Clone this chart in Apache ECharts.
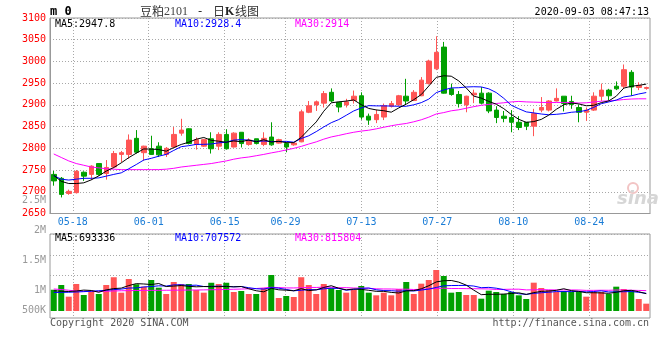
<!DOCTYPE html>
<html>
<head>
<meta charset="utf-8">
<script src="https://cdn.jsdelivr.net/npm/echarts/dist/echarts.min.js"></script>
<style>html,body{margin:0;padding:0;background:#fff}#c{width:660px;height:360px}</style>
</head>
<body>
<div id="c"></div>
<script>
// ---- data ----
const dates = ['05-13','05-14','05-15','05-18','05-19','05-20','05-21','05-22','05-25','05-26','05-27','05-28','05-29',
'06-01','06-02','06-03','06-04','06-05','06-08','06-09','06-10','06-11','06-12','06-15','06-16','06-17','06-18','06-19','06-22','06-23','06-24','06-29','06-30',
'07-01','07-02','07-03','07-06','07-07','07-08','07-09','07-10','07-13','07-14','07-15','07-16','07-17','07-20','07-21','07-22','07-23','07-24','07-27','07-28','07-29','07-30','07-31',
'08-03','08-04','08-05','08-06','08-07','08-10','08-11','08-12','08-13','08-14','08-17','08-18','08-19','08-20','08-21','08-24','08-25','08-26','08-27','08-28','08-31',
'09-01','09-02','09-03'];
const labelDates = ['05-18','06-01','06-15','06-29','07-13','07-27','08-10','08-24'];

const opens = [2740,2731,2696,2698,2745,2740,2765,2742,2757,2786,
2786,2823,2790,2799,2805,2786,2803,2835,2845,2809,
2805,2822,2805,2832,2803,2837,2809,2822,2809,2826,
2812,2811,2808,2815,2883,2900,2904,2929,2906,2900,
2910,2921,2874,2866,2872,2897,2900,2920,2910,2921,
2949,2983,3033,2937,2924,2900,2923,2927,2927,2888,
2874,2871,2860,2860,2851,2888,2888,2909,2920,2908,
2894,2883,2888,2920,2934,2943,2943,2975,2940,2938];
const closes = [2725,2694,2701,2747,2736,2759,2740,2756,2788,2790,
2819,2791,2805,2786,2785,2800,2832,2842,2811,2820,
2820,2799,2832,2799,2835,2811,2819,2811,2823,2808,
2820,2803,2812,2884,2898,2907,2926,2909,2895,2907,
2920,2872,2865,2878,2898,2903,2921,2909,2929,2957,
3001,3021,2927,2924,2903,2920,2927,2904,2886,2871,
2869,2860,2848,2851,2880,2894,2909,2915,2903,2901,
2883,2888,2920,2934,2921,2937,2981,2941,2945,2940];
const lows = [2714,2687,2693,2696,2725,2727,2737,2728,2754,2768,
2776,2788,2771,2785,2780,2780,2802,2829,2809,2797,
2803,2788,2796,2797,2802,2802,2806,2809,2805,2806,
2811,2791,2806,2814,2881,2886,2894,2906,2883,2894,
2903,2866,2854,2858,2865,2894,2898,2901,2910,2920,
2947,2980,2926,2921,2894,2883,2904,2901,2881,2858,
2860,2837,2842,2842,2828,2883,2885,2908,2885,2891,
2860,2863,2886,2909,2909,2934,2937,2921,2934,2935];
const highs = [2748,2734,2705,2750,2747,2761,2766,2773,2794,2794,
2832,2842,2806,2829,2814,2803,2849,2868,2846,2825,
2822,2837,2837,2844,2837,2837,2823,2822,2837,2860,
2822,2814,2814,2889,2909,2910,2932,2938,2907,2914,
2933,2929,2880,2889,2903,2909,2923,2960,2934,2964,
3004,3058,3045,2949,2932,2921,2935,2941,2929,2897,
2886,2888,2874,2860,2891,2918,2911,2938,2920,2921,
2901,2894,2929,2949,2937,2954,2993,2980,2952,2942];

const ma5 = [2738,2724,2719,2719,2720.6,2727.4,2736.6,2747.6,2755.8,2766.6,
2778.6,2788.8,2798.6,2798.2,2797.2,2793.4,2801.6,2809,2814,2821,
2825,2818.4,2816.4,2814,2817,2815.2,2819.2,2815,2819.8,2814.4,
2816.2,2813,2813.2,2825.4,2843.4,2860.8,2885.4,2904.8,2907,2908.8,
2911.4,2900.6,2891.8,2888.4,2886.6,2883.2,2893,2901.8,2912,2923.8,
2943.4,2963.4,2967,2966,2955.2,2939,2920.2,2915.6,2908,2901.6,
2891.4,2878,2866.8,2859.8,2861.6,2866.6,2876.4,2889.8,2900.2,2904.4,
2902.2,2898,2899,2905.2,2909.2,2920,2938.6,2942.8,2945,2947.8];
const ma10 = [2737,2729,2727,2729,2731,2731,2732,2736,2740,2743.6,
2753,2762.7,2773.1,2777,2781.9,2786,2795.2,2803.8,2806.1,2809.1,
2809.2,2810,2812.7,2814,2819,2820.1,2818.8,2815.7,2816.9,2815.7,
2815.7,2816.1,2814.1,2822.6,2828.9,2838.5,2849.2,2859,2866.2,2876.1,
2886.1,2893,2898.3,2897.7,2897.7,2897.3,2896.8,2896.8,2900.2,2905.2,
2913.3,2928.2,2934.4,2939,2939.5,2941.2,2941.8,2941.3,2937,2928.4,
2915.2,2899.1,2891.2,2883.9,2881.6,2879,2877.2,2878.3,2880,2883,
2884.4,2887.2,2894.4,2902.7,2906.8,2911.1,2918.3,2920.9,2925.1,2928.4];
const ma30 = [2787,2779,2771,2765,2761,2757,2755,2753,2752,2751,
2751,2751,2751,2751,2751,2752,2754,2757,2759,2761,
2763,2765,2768,2771,2775,2778,2780,2783,2786,2789.5,
2792.6,2796.3,2800,2804.5,2809.9,2814.9,2821.1,2826.2,2829.7,2833.6,
2837,2839.7,2841.7,2844.8,2848.5,2852,2854.9,2857.2,2861.1,2865.7,
2871.7,2879.1,2882.3,2886.4,2888.7,2892.3,2895.9,2899,2901.1,2903.2,
2904.9,2906.8,2908,2906.9,2906.3,2905.8,2905.3,2905.5,2905.7,2905.5,
2904.3,2904.8,2906.7,2908.5,2909.3,2910.4,2912.4,2913.5,2914,2914];

// volume, in thousands of lots
const volumesK = [850,1040,573,1080,640,773,680,1040,1350,733,
1280,1070,973,1240,933,680,1160,1080,1080,840,
733,1130,1080,1130,760,800,680,680,920,1440,
520,600,560,1350,1040,680,1080,907,840,733,
840,1000,733,627,733,627,880,1160,680,1093,
1240,1640,1400,733,760,640,640,493,813,760,
680,760,627,480,1133,920,840,760,800,760,
760,573,760,760,680,973,880,840,480,293];
const volMa5K = [810,790,780,800,836.6,821.2,749.2,842.6,896.6,915.2,
1016.6,1094.6,1081.2,1059.2,1099.2,979.2,997.2,1018.6,986.6,968,
978.6,972.6,972.6,982.6,966.6,980,890,810,768,904,
848,832,808,894,814,846,942,1011.4,909.4,848,
880,864,829.2,786.6,786.6,744,720,805.4,816,888,
1010.6,1162.6,1210.6,1221.2,1154.6,1034.6,834.6,653.2,669.2,669.2,
677.2,701.2,728,661.4,736,784,800,826.6,890.6,816,
784,730.6,730.6,722.6,706.6,749.2,810.6,826.6,770.6,693.3];
const volMa10K = [740,745,750,760,775,790,810,830,855,875.9,
918.9,921.9,961.9,977.9,1007.2,997.9,1045.9,1049.9,1022.9,1033.6,
978.9,984.9,995.6,984.6,967.3,979.3,931.3,891.3,875.3,935.3,
914,861,809,831,859,847,887,909.7,901.7,831,
863,903,920.3,848,817.3,812,792,817.3,801.3,837.3,
877.3,941.3,1008,1018.6,1021.3,1022.6,998.6,931.9,945.2,911.9,
855.9,767.9,690.6,665.3,702.6,730.6,750.6,777.3,776,776,
784,765.3,778.6,806.6,761.3,766.6,770.6,778.6,746.6,707.6];
const volMa30K = [880,860,830,800,790,788,788,790,800,810,
815,820,825,825,828,830,832,835,838,840,
845,850,855,862,870,878,888,900,920,948.3,
937.3,922.6,922.2,931.2,944.5,941.4,954.7,950.3,933.3,933.3,
918.6,916.3,908.3,887.9,881.2,879.4,870.1,872.8,859.4,867.9,
884.8,901.8,912.4,899.2,899.2,893.9,892.5,886.3,882.7,860.1,
865.4,870.7,873,844,847.1,855.1,847.1,842.2,840.8,841.7,
839.1,824.8,825.7,830.2,828.4,839.9,839.9,829.3,822.6,815.8];

const priceTicks = [2650,2700,2750,2800,2850,2900,2950,3000,3050,3100];
const volTickValuesK = [500,1000,1500,2000,2500];
const volTickLabels = ['500K','1M','1.5M','2M','2.5M'];
const priceLegend = ['MA5:2947.8','MA10:2928.4','MA30:2914'];
const volLegend = ['MA5:693336','MA10:707572','MA30:815804'];
const headerCode = 'm 0';
const titleParts = ['豆粕','2101','-','日','K','线图'];
const stamp = '2020-09-03 08:47:13';
const copyright = 'Copyright 2020 SINA.COM';
const site = 'http://finance.sina.com.cn';

// ---- chart ----
const RED = '#ff5555', GREEN = '#00a000';
const MONO = 'DejaVu Sans Mono';
const GRIDC = '#a8a8a8';
const labelSet = new Set(labelDates);
const showAt = (i, v) => labelSet.has(v);

const candleData = dates.map((d, i) => [opens[i], closes[i], lows[i], highs[i]]);
const volData = volumesK.map((v, i) => ({ value: v, itemStyle: { color: closes[i] >= opens[i] ? RED : GREEN } }));

const chart = echarts.init(document.getElementById('c'), null, { renderer: 'canvas' });

function txt(x, y, text, font, fill, align) {
  return { type: 'text', x: x, y: y, silent: true, z: 100,
    style: { text: text, font: font, fill: fill, textAlign: align || 'left', align: align || 'left',
             textVerticalAlign: 'middle', verticalAlign: 'middle' } };
}
const mono10 = '10px "DejaVu Sans Mono"';
const lineS = (name, data, color, xi, yi) => ({ name: name, type: 'line', xAxisIndex: xi, yAxisIndex: yi, data: data,
  symbol: 'none', showSymbol: false, silent: true, lineStyle: { color: color, width: 1 }, z: 3 });

const option = {
  animation: false,
  backgroundColor: '#fff',
  grid: [
    { left: 50, right: 10, top: 18, height: 195.5, show: true, borderColor: '#999', borderWidth: 1 },
    { left: 50, right: 10, top: 234, height: 84, show: true, borderColor: '#999', borderWidth: 1 },
    { left: 50, right: 10, top: 200, height: 121 },
    { left: 50, right: 10, top: 234, height: 41.7 }
  ],
  xAxis: [
    { gridIndex: 0, type: 'category', data: dates, boundaryGap: true, show: false, position: 'bottom' },
    { gridIndex: 0, type: 'category', data: dates, boundaryGap: false, position: 'bottom', offset: 0,
      axisLine: { show: true, onZero: false, lineStyle: { color: '#999' } }, axisTick: { show: false },
      axisLabel: { interval: showAt, color: '#1a7cd6', fontFamily: MONO, fontSize: 10, margin: 4 },
      splitLine: { show: true, interval: showAt, lineStyle: { color: GRIDC, type: [1, 2], width: 1 } } },
    { gridIndex: 1, type: 'category', data: dates, boundaryGap: true, show: false, position: 'bottom' },
    { gridIndex: 1, type: 'category', data: dates, boundaryGap: false, position: 'bottom', offset: 0,
      axisLine: { show: false, onZero: false }, axisTick: { show: false }, axisLabel: { show: false },
      splitLine: { show: true, interval: showAt, lineStyle: { color: GRIDC, type: [1, 2], width: 1 } } },
    { gridIndex: 2, type: 'value', show: false },
    { gridIndex: 3, type: 'value', show: false }
  ],
  yAxis: [
    { gridIndex: 0, type: 'value', min: priceTicks[0], max: priceTicks[priceTicks.length - 1],
      interval: priceTicks[1] - priceTicks[0],
      axisLine: { show: true, lineStyle: { color: '#999' } }, axisTick: { show: false },
      axisLabel: { color: '#ff0000', fontFamily: MONO, fontSize: 10, margin: 4, showMinLabel: true, showMaxLabel: true,
        formatter: function (v) { return String(v); } },
      splitLine: { show: true, lineStyle: { color: GRIDC, type: [1, 2], width: 1 } } },
    { gridIndex: 1, type: 'value', min: -280, max: 3080, show: false },
    { gridIndex: 2, type: 'value', min: volTickValuesK[0], max: volTickValuesK[volTickValuesK.length - 1],
      interval: volTickValuesK[1] - volTickValuesK[0],
      axisLine: { show: false }, axisTick: { show: false }, splitLine: { show: false },
      axisLabel: { color: '#999', fontFamily: MONO, fontSize: 10, margin: 4, showMinLabel: true, showMaxLabel: true,
        formatter: function (v) {
          const k = volTickValuesK.indexOf(v);
          const s = k >= 0 ? volTickLabels[k] : '';
          return k === 0 ? '{lo|' + s + '}' : s;
        },
        rich: { lo: { color: '#999', fontFamily: MONO, fontSize: 10, padding: [0, 0, 22, 0] } } } },
    { gridIndex: 3, type: 'value', min: 0, max: 2, interval: 1, inverse: true,
      axisLine: { show: false }, axisTick: { show: false }, axisLabel: { show: false },
      splitLine: { show: true, lineStyle: { color: GRIDC, type: [1, 2], width: 1 } } }
  ],
  series: [
    { type: 'candlestick', xAxisIndex: 0, yAxisIndex: 0, data: candleData, barWidth: 5, silent: true,
      itemStyle: { color: RED, color0: GREEN, borderColor: RED, borderColor0: GREEN, borderWidth: 1 } },
    lineS('MA30', ma30, '#ff00ff', 0, 0),
    lineS('MA10', ma10, '#0000ff', 0, 0),
    lineS('MA5', ma5, '#000000', 0, 0),
    { type: 'bar', xAxisIndex: 2, yAxisIndex: 1, data: volData, barWidth: 6, silent: true },
    lineS('VMA30', volMa30K, '#ff00ff', 2, 1),
    lineS('VMA10', volMa10K, '#0000ff', 2, 1),
    lineS('VMA5', volMa5K, '#000000', 2, 1)
  ],
  graphic: [
    txt(50, 12, headerCode, 'bold 12px "DejaVu Sans Mono"', '#000'),
    txt(140, 11.5, titleParts[0], '12px "Noto Sans CJK SC"', '#333'),
    txt(164, 11.5, titleParts[1], '12px "Liberation Serif"', '#444'),
    txt(200, 11.5, titleParts[2], '12px "DejaVu Sans Mono"', '#333', 'center'),
    txt(213, 11.5, titleParts[3], '12px "Noto Sans CJK SC"', '#333'),
    txt(225, 11.5, titleParts[4], 'bold 12px "Liberation Serif"', '#222'),
    txt(235, 11.5, titleParts[5], '12px "Noto Sans CJK SC"', '#333'),
    txt(649, 12.5, stamp, mono10, '#000', 'right'),
    txt(55, 24.5, priceLegend[0], mono10, '#000'),
    txt(175, 24.5, priceLegend[1], mono10, '#0000ff'),
    txt(295, 24.5, priceLegend[2], mono10, '#ff00ff'),
    txt(55, 238.5, volLegend[0], mono10, '#000'),
    txt(175, 238.5, volLegend[1], mono10, '#0000ff'),
    txt(295, 238.5, volLegend[2], mono10, '#ff00ff'),
    txt(50, 323.5, copyright, mono10, '#555'),
    txt(649, 323.5, site, mono10, '#555', 'right'),
    { type: 'circle', shape: { cx: 633, cy: 188, r: 5 }, silent: true, z: 1,
      style: { fill: 'none', stroke: '#f2c4c4', lineWidth: 2 } },
    txt(617, 199, 'sina', 'italic bold 18px "DejaVu Sans"', '#d6d6d6')
  ]
};
chart.setOption(option);
</script>
</body>
</html>
